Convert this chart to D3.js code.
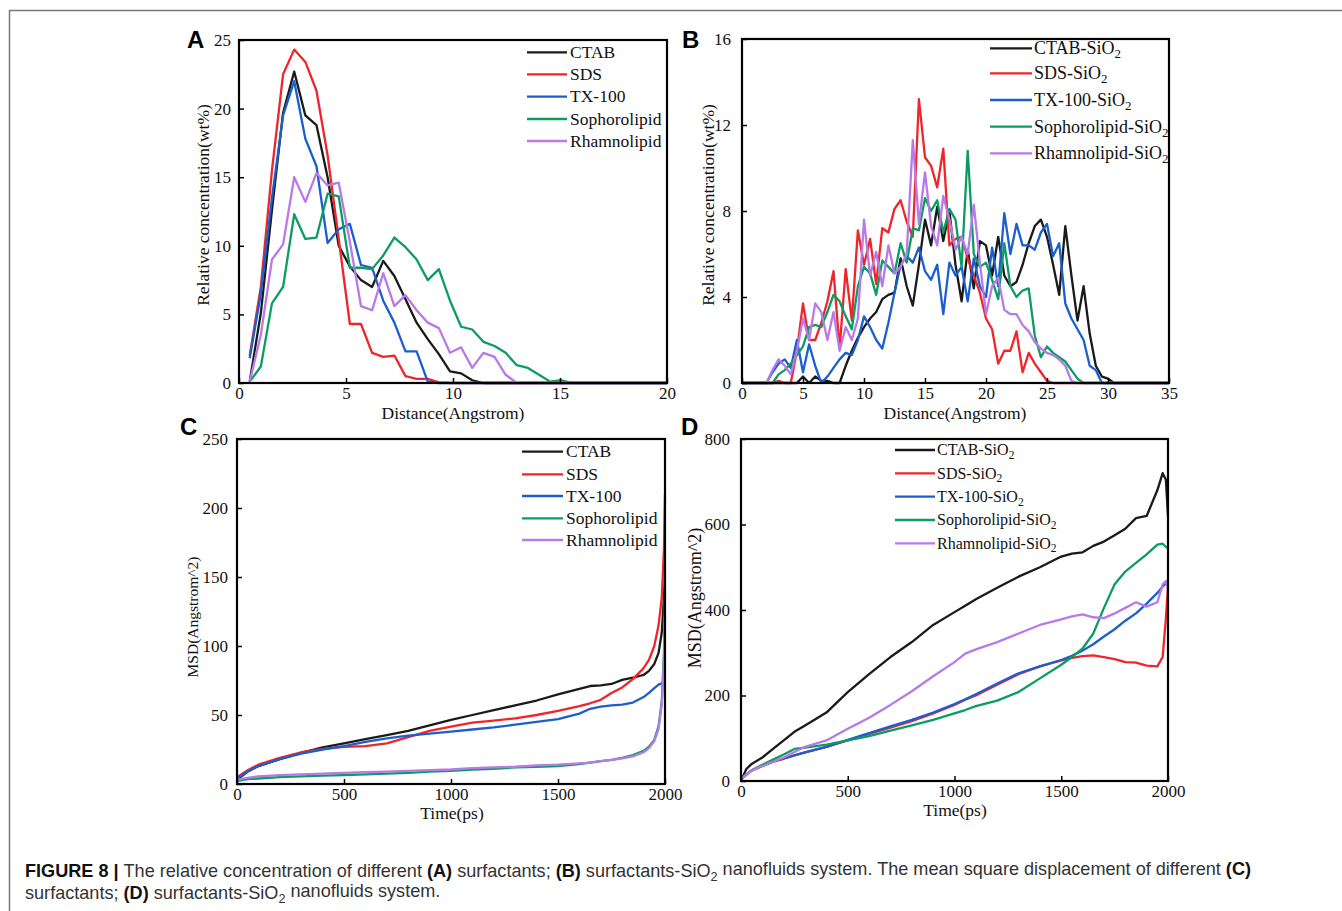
<!DOCTYPE html>
<html><head><meta charset="utf-8">
<script src="https://cdn.jsdelivr.net/npm/d3@7"></script>
<style>
html,body{margin:0;padding:0;background:#fff;}
svg{display:block;}
</style></head>
<body>
<svg id="chart" width="1342" height="911"></svg>
<script>
// ---------------- DATA ----------------
// Panel A: relative concentration of surfactants
const distA = [0.5,1.02,1.54,2.06,2.58,3.10,3.62,4.14,4.66,5.18,5.70,6.22,6.74,7.26,7.78,8.30,8.82,9.34,9.86,10.38,10.90,11.42,11.94,12.46,12.98,13.50,14.02,14.54,15.06,15.58,16.10,20];
const ctabA = [0.1,5.1,12.6,19.7,22.7,19.5,18.8,15.0,10.0,8.5,7.5,7.0,8.9,7.8,6.1,4.4,3.2,2.1,0.85,0.7,0.2,0,0,0,0,0,0,0,0,0,0,0];
const sdsA  = [2.0,7.0,15.5,22.5,24.3,23.4,21.3,16.6,10.5,4.3,4.3,2.2,1.9,2.0,0.5,0.3,0.3,0.05,0,0,0,0,0,0,0,0,0,0,0,0,0,0];
const txA   = [1.8,6.5,13.5,19.5,22.0,17.8,15.8,10.2,11.2,11.6,8.6,8.4,6.0,4.4,2.3,2.3,0.1,0,0,0,0,0,0,0,0,0,0,0,0,0,0,0];
const sophA = [0.1,1.2,5.8,7.0,12.3,10.5,10.6,13.8,13.6,8.4,8.4,8.3,9.3,10.6,9.9,9.0,7.5,8.3,6.0,4.1,3.9,3.0,2.7,2.2,1.3,1.1,0.6,0.1,0.2,0,0,0];
const rhamA = [0.1,3.5,9.0,10.1,15.0,13.2,15.3,14.4,14.6,10.3,5.6,5.3,8.0,5.6,6.4,5.3,4.4,4.0,2.2,2.6,1.1,2.2,1.9,0.6,0,0,0,0,0,0,0,0];

// Panel B: relative concentration of surfactants-SiO2
const distB = [0,2,2.5,3,3.5,4,4.5,5,5.5,6,6.5,7,7.5,8,8.5,9,9.5,10,10.5,11,11.5,12,12.5,13,13.5,14,14.5,15,15.5,16,16.5,17,17.5,18,18.5,19,19.5,20,20.5,21,21.5,22,22.5,23,23.5,24,24.5,25,25.5,26,26.5,27,27.5,28,28.5,29,29.5,30,30.5,31,35];
const ctabB = [0,0,0,0,0,0,0,0.3,0,0.3,0.1,0.1,0,0,0.8,1.5,2.1,2.6,3.0,3.3,3.9,4.1,4.2,5.8,4.5,3.6,5.5,7.6,6.4,8.2,6.6,8.0,5.5,3.8,6.2,4.4,6.6,6.4,5.0,6.8,5.0,4.5,4.7,5.5,6.5,7.3,7.6,6.8,5.5,4.1,7.3,5.0,2.9,4.5,2.3,0.8,0.3,0.2,0,0,0];
const sdsB  = [0,0,0,0.1,0,0,1.5,3.7,2.0,2.0,2.8,3.8,5.2,1.6,5.3,2.9,7.1,5.5,6.7,4.6,7.2,7.0,8.1,8.5,7.5,6.8,13.2,10.5,10.1,9.1,10.9,6.4,6.7,6.8,5.8,5.0,4.2,3.0,2.5,0.9,1.5,1.5,2.4,0.5,1.4,0.9,0.5,0.1,0,0,0,0,0,0,0,0,0,0,0,0,0];
const txB   = [0,0,0.5,0.9,1.1,0.7,2.0,0.5,1.8,0.8,0,0.3,0.7,1.1,1.4,1.3,2.0,3.1,2.6,2.0,1.6,2.8,4.2,5.5,5.9,5.6,6.3,5.2,4.8,5.5,3.2,5.6,5.0,5.4,3.8,5.8,4.5,4.0,6.3,4.5,7.9,6.0,7.4,6.4,6.4,6.2,7.0,7.4,5.9,6.5,3.7,3.0,2.5,2.0,0.8,0.6,0,0,0,0,0];
const sophB = [0,0,0,0.4,0.6,0.9,1.3,1.7,2.6,2.7,2.6,3.3,4.1,3.8,3.1,2.5,4.5,5.4,5.1,4.1,5.7,5.4,5.1,6.5,5.6,7.2,7.1,8.6,8.0,8.5,7.0,8.1,7.6,5.4,10.8,6.0,5.4,5.6,4.8,3.9,6.5,4.5,4.0,4.3,4.4,2.2,1.2,1.7,1.4,1.2,1.0,0.6,0.2,0,0,0,0,0,0,0,0];
const rhamB = [0,0,0.6,1.1,0.8,0.4,1.5,3.0,2.0,3.7,3.3,2.0,3.3,1.5,2.6,2.0,3.0,7.6,5.0,6.1,4.5,6.4,5.1,5.4,6.0,11.3,7.4,9.8,7.3,6.4,8.7,7.6,6.2,6.8,6.0,8.3,5.6,3.2,4.5,4.9,3.4,3.2,3.2,2.7,2.4,1.9,1.6,1.4,1.3,1.1,0.8,0.1,0,0,0,0,0,0,0,0,0];

// Panel C: MSD of surfactants
const timeC = [0,50,100,200,300,400,500,600,700,800,900,1000,1100,1200,1300,1400,1500,1600,1650,1700,1750,1800,1850,1900,1925,1950,1970,1985,1995,2000];
const ctabC = [3,9,13,18,22.5,26.5,29.5,32.5,35.5,38.5,42.5,46.5,50,53.5,57,60.5,65,69,71,71.5,72.5,75.5,77,79,82,87,95,110,135,150];
const sdsC  = [5,10,14,19,23,25.5,27,27.5,29.5,34,38.5,41.5,44.5,46,47.5,50,53,56.5,58.5,61,66,70,76,84,90,100,115,135,170,210];
const txC   = [4,9,13,18,22,25,27.5,30.5,33,35,36.5,38,39.5,41,43,45,47,51,54.5,56,57,57.5,59,63,66,69.5,72,73,74,86];
const sophC = [2,3.5,4,5,5.5,6,6.5,7,7.5,8,9,9.5,10.5,11,12,12.5,13,14.5,15.5,16.5,17.5,19,21,24,27,32,42,60,95,140];
const rhamC = [3,4.5,5.5,6.5,7,7.5,8,8.5,9,9.5,10,10.5,11.5,12,12.5,13.5,14,15,15.5,16.5,17.5,18.5,20,23,26,31,40,58,90,122];

// Panel D: MSD of surfactants-SiO2
const timeD = [0,25,50,100,150,200,250,300,400,500,600,700,800,900,1000,1050,1100,1200,1300,1400,1500,1550,1600,1650,1700,1750,1800,1850,1900,1950,1975,1990,2000];
const ctabD = [0,28,40,55,75,95,115,130,160,208,250,290,325,365,395,410,425,452,478,500,525,532,535,550,560,575,590,615,620,680,720,705,620];
const sdsD  = [5,15,25,35,45,52,60,67,80,95,110,125,140,158,178,190,200,225,250,268,282,288,292,294,290,285,278,277,270,268,290,380,455];
const txD   = [5,15,25,35,45,53,60,67,80,96,112,128,143,160,180,191,203,228,252,268,283,293,305,320,338,355,375,392,415,440,455,462,465];
const sophD = [5,15,25,38,50,62,75,78,85,95,105,118,130,143,158,166,175,188,208,240,272,290,310,345,405,460,490,510,530,553,555,548,544];
const rhamD = [5,15,25,35,45,55,68,80,95,122,148,178,210,245,278,298,308,325,345,365,378,385,390,383,381,392,405,418,408,418,460,468,450];

// Labels / ticks
const namesPlain = ["CTAB","SDS","TX-100","Sophorolipid","Rhamnolipid"];
const namesSiO2  = ["CTAB-SiO2","SDS-SiO2","TX-100-SiO2","Sophorolipid-SiO2","Rhamnolipid-SiO2"];
const colors = ["#1a1a1a","#f0252b","#1b5fcf","#0c9c62","#b77ae8"];
const ticksAx = [0,5,10,15,20], ticksAy = [0,5,10,15,20,25];
const ticksBx = [0,5,10,15,20,25,30,35], ticksBy = [0,4,8,12,16];
const ticksCx = [0,500,1000,1500,2000], ticksCy = [0,50,100,150,200,250];
const ticksDx = [0,500,1000,1500,2000], ticksDy = [0,200,400,600,800];

// ---------------- DRAW ----------------
const svg = d3.select("#chart");
const SERIF = "'Liberation Serif','Times New Roman',serif";
const SANS = "'Liberation Sans',Arial,Helvetica,sans-serif";

// outer border
svg.append("path").attr("d","M9.5,911 L9.5,10.5 L1342,10.5")
  .attr("fill","none").attr("stroke","#7a7a7a").attr("stroke-width",1.5);

function addName(sel, name){
  if (name.endsWith("SiO2")) {
    sel.append("tspan").text(name.slice(0,-1));
    sel.append("tspan").attr("font-size","0.72em").attr("dy","0.32em").text("2");
  } else sel.text(name);
}

function panel(cfg){
  const x = d3.scaleLinear().domain(cfg.xDomain).range([cfg.l,cfg.r]);
  const y = d3.scaleLinear().domain(cfg.yDomain).range([cfg.b,cfg.t]);
  const g = svg.append("g");

  // lines
  const line = d3.line().x(d=>x(d[0])).y(d=>y(d[1]));
  cfg.series.forEach((s,i)=>{
    const pts = cfg.xs.map((xv,j)=>[xv,s[j]]);
    g.append("path").datum(pts).attr("d",line)
      .attr("fill","none").attr("stroke",colors[i]).attr("stroke-width",2.3)
      .attr("stroke-linejoin","round");
  });

  // axes
  const ax = g.append("g").attr("transform",`translate(0,${cfg.b})`)
    .call(d3.axisBottom(x).tickValues(cfg.xTicks).tickFormat(d3.format("d"))
      .tickSizeInner(-5).tickSizeOuter(0).tickPadding(4));
  const ay = g.append("g").attr("transform",`translate(${cfg.l},0)`)
    .call(d3.axisLeft(y).tickValues(cfg.yTicks).tickFormat(d3.format("d"))
      .tickSizeInner(-5).tickSizeOuter(0).tickPadding(cfg.yPad||8));
  [ax,ay].forEach(a=>{
    a.select(".domain").remove();
    a.selectAll(".tick line").attr("stroke","#000").attr("stroke-width",1.5);
    a.selectAll(".tick text").attr("font-family",SERIF).attr("font-size",17).attr("fill","#111");
  });

  // frame
  g.append("rect").attr("x",cfg.l).attr("y",cfg.t)
    .attr("width",cfg.r-cfg.l).attr("height",cfg.b-cfg.t)
    .attr("fill","none").attr("stroke","#000").attr("stroke-width",2.2);

  // axis titles
  g.append("text").attr("x",cfg.xl[0]).attr("y",cfg.xl[1]).attr("text-anchor","middle")
    .attr("font-family",SERIF).attr("font-size",cfg.xl[2]).attr("fill","#111").text(cfg.xlabel);
  g.append("text").attr("transform",`translate(${cfg.yl[0]},${cfg.yl[1]}) rotate(-90)`)
    .attr("text-anchor","middle").attr("dy","0.35em")
    .attr("font-family",SERIF).attr("font-size",cfg.yl[2]).attr("fill","#111").text(cfg.ylabel);

  // panel letter
  g.append("text").attr("x",cfg.letter[1]).attr("y",cfg.letter[2])
    .attr("font-family",SANS).attr("font-weight","bold").attr("font-size",24)
    .attr("fill","#000").text(cfg.letter[0]);

  // legend
  const L = cfg.legend;
  cfg.names.forEach((n,i)=>{
    const yy = L.rows[i];
    g.append("line").attr("x1",L.x1).attr("x2",L.x2).attr("y1",yy).attr("y2",yy)
      .attr("stroke",colors[i]).attr("stroke-width",2.3);
    const t = g.append("text").attr("x",L.tx).attr("y",yy).attr("dy","0.33em")
      .attr("font-family",SERIF).attr("font-size",L.fs).attr("fill","#111");
    addName(t,n);
  });
}

panel({l:239,r:667,t:40,b:383,xDomain:[0,20],yDomain:[0,25],xTicks:ticksAx,yTicks:ticksAy,
  xs:distA,series:[ctabA,sdsA,txA,sophA,rhamA],names:namesPlain,
  xlabel:"Distance(Angstrom)",xl:[453,419,17.5],ylabel:"Relative concentration(wt%)",yl:[203,205,17.5],
  letter:["A",187,48],legend:{x1:527,x2:567,tx:570,fs:17.5,rows:[52.3,74.3,96.7,119,141]}});

panel({l:742,r:1169,t:39,b:383,xDomain:[0,35],yDomain:[0,16],xTicks:ticksBx,yTicks:ticksBy,yPad:11,
  xs:distB,series:[ctabB,sdsB,txB,sophB,rhamB],names:namesSiO2,
  xlabel:"Distance(Angstrom)",xl:[955,419,17.5],ylabel:"Relative concentration(wt%)",yl:[708,205,17.5],
  letter:["B",682,48],legend:{x1:990,x2:1032,tx:1034,fs:18,rows:[48.3,73.3,100,126.7,153.3]}});

panel({l:237,r:665,t:439,b:784,xDomain:[0,2000],yDomain:[0,250],xTicks:ticksCx,yTicks:ticksCy,yPad:9,
  xs:timeC,series:[ctabC,sdsC,txC,sophC,rhamC],names:namesPlain,
  xlabel:"Time(ps)",xl:[452,819,17.5],ylabel:"MSD(Angstrom^2)",yl:[193,617,15.5],
  letter:["C",180,435],legend:{x1:522,x2:563,tx:566,fs:17.5,rows:[451.7,474.3,496,518.3,540]}});

panel({l:741,r:1168,t:439,b:781,xDomain:[0,2000],yDomain:[0,800],xTicks:ticksDx,yTicks:ticksDy,yPad:11,
  xs:timeD,series:[ctabD,sdsD,txD,sophD,rhamD],names:namesSiO2,
  xlabel:"Time(ps)",xl:[955,816,17.5],ylabel:"MSD(Angstrom^2)",yl:[695,598,18],
  letter:["D",681,435],legend:{x1:895,x2:935,tx:937,fs:16,rows:[450,473.3,496.7,520,543.3]}});

// ---------------- CAPTION ----------------
const cap1 = [
  ["FIGURE 8 | ",true],["The relative concentration of different ",false],["(A)",true],
  [" surfactants; ",false],["(B)",true],[" surfactants-SiO",false],["2",false,"sub"],
  [" nanofluids system. The mean square displacement of different ",false],["(C)",true]
];
const cap2 = [
  ["surfactants; ",false],["(D)",true],[" surfactants-SiO",false],["2",false,"sub"],[" nanofluids system.",false]
];
function caption(parts,yb){
  const t = svg.append("text").attr("x",25).attr("y",yb)
    .attr("font-family",SANS).attr("font-size",17).attr("fill","#333");
  parts.forEach(p=>{
    const s = t.append("tspan").text(p[0]);
    if (p[1]) s.attr("font-weight","bold").attr("fill","#111");
    if (p[2]==="sub") s.attr("font-size","0.7em").attr("dy","0.3em");
    else if (p[0].startsWith(" nanofluids")) s.attr("dy","-0.3em");
  });
  return t;
}
const c1 = caption(cap1,877);
const c2 = caption(cap2,899);
const w1 = c1.node().getComputedTextLength();
const fs = 17*1227/w1;
c1.attr("font-size",fs); c2.attr("font-size",fs);
</script>
</body></html>
